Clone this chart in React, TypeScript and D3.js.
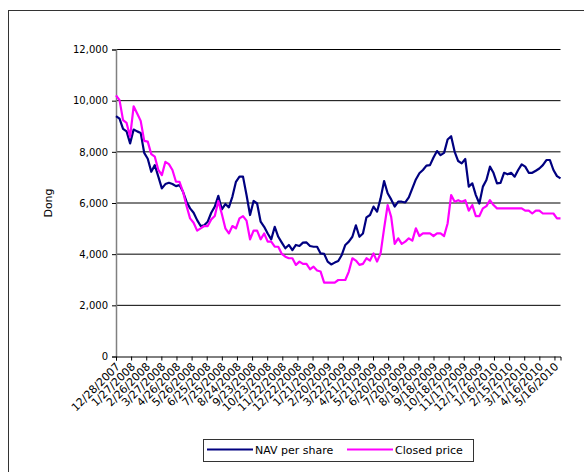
// App.tsx
import React, { useRef, useEffect } from 'react';
import * as d3 from 'd3';

// first weekly observation; one value per week after it
const startDate = '12/28/2007';

const tickLabels = [
    '12/28/2007', '1/27/2008', '2/26/2008', '3/27/2008', '4/26/2008', '5/26/2008',
    '6/25/2008', '7/25/2008', '8/24/2008', '9/23/2008', '10/23/2008', '11/22/2008',
    '12/22/2008', '1/21/2009', '2/20/2009', '3/22/2009', '4/21/2009', '5/21/2009',
    '6/20/2009', '7/20/2009', '8/19/2009', '9/18/2009', '10/18/2009', '11/17/2009',
    '12/17/2009', '1/16/2010', '2/15/2010', '3/17/2010', '4/16/2010', '5/16/2010',
];

const yTicks = [0, 2000, 4000, 6000, 8000, 10000, 12000];

const navPerShare = [
    9400, 9300, 8900, 8800, 8330, 8870, 8800, 8740, 7960, 7730,
    7220, 7480, 7030, 6570, 6740, 6790, 6740, 6660, 6700, 6440,
    6050, 5790, 5620, 5330, 5100, 5130, 5270, 5620, 5860, 6280,
    5750, 5960, 5830, 6250, 6830, 7030, 7030, 6310, 5530, 6080,
    5980, 5270, 5070, 4810, 4580, 5070, 4680, 4450, 4230, 4360,
    4160, 4360, 4320, 4450, 4460, 4320, 4290, 4290, 4030, 4010,
    3710, 3600, 3670, 3730, 3970, 4360, 4490, 4680, 5130, 4680,
    4810, 5440, 5530, 5860, 5660, 6180, 6860, 6380, 6140, 5860,
    6050, 6050, 6020, 6220, 6570, 6920, 7160, 7290, 7460, 7480,
    7780, 8030, 7870, 7960, 8480, 8610, 8000, 7640, 7550, 7720,
    6640, 6770, 6310, 5980, 6640, 6900, 7420, 7180, 6770, 6790,
    7180, 7120, 7180, 7030, 7290, 7510, 7420, 7180, 7180, 7260,
    7350, 7480, 7680, 7680, 7290, 7050, 6960,
];

const closedPrice = [
    10210, 10020, 9240, 9130, 8590, 9780, 9500, 9210, 8430, 8400,
    7910, 7810, 7290, 7090, 7610, 7520, 7290, 6830, 6830, 6440,
    5880, 5400, 5230, 4920, 5010, 5100, 5100, 5360, 5490, 6080,
    5570, 5010, 4810, 5100, 5010, 5400, 5490, 5310, 4580, 4920,
    4920, 4580, 4810, 4490, 4490, 4290, 4290, 4010, 3900, 3840,
    3840, 3580, 3710, 3620, 3620, 3410, 3510, 3360, 3320, 2890,
    2890, 2890, 2890, 2990, 2990, 2990, 3320, 3840, 3750, 3580,
    3620, 3840, 3750, 4030, 3710, 4030, 5010, 5920, 5460, 4400,
    4620, 4400, 4490, 4620, 4530, 5010, 4710, 4810, 4810, 4810,
    4710, 4810, 4810, 4710, 5200, 6310, 6050, 6110, 6050, 6110,
    5700, 5920, 5490, 5490, 5790, 5880, 6110, 5920, 5790, 5790,
    5790, 5790, 5790, 5790, 5790, 5790, 5700, 5700, 5590, 5700,
    5700, 5590, 5590, 5590, 5590, 5400, 5400,
];

const seriesNames = ['NAV per share', 'Closed price'];
const seriesColors = ['#000080', '#FF00FF'];

const App = () => {
    const chartRef = useRef<SVGSVGElement>(null);

    useEffect(() => {
        const svg = d3.select(chartRef.current);
        svg.selectAll('*').remove();

        const parse = d3.utcParse('%m/%d/%Y');
        const start = parse(startDate)!;
        const dates = navPerShare.map((_, i) => d3.utcDay.offset(start, i * 7));

        const left = 116, right = 560.5, top = 49.5, bottom = 356.5;

        // chart area frame (runs off the page on the right and bottom)
        svg.append('rect')
            .attr('x', 8.5).attr('y', 10.5)
            .attr('width', 600).attr('height', 500)
            .attr('fill', 'none').attr('stroke', '#333').attr('stroke-width', 1);

        const x = d3.scaleUtc()
            .domain([dates[0], dates[dates.length - 1]])
            .range([left, right]);

        const y = d3.scaleLinear().domain([0, 12000]).range([bottom, top]);

        // gridlines
        svg.append('g')
            .selectAll('line')
            .data(yTicks.filter((d) => d > 0))
            .enter()
            .append('line')
            .attr('x1', left).attr('x2', right)
            .attr('y1', (d) => y(d)).attr('y2', (d) => y(d))
            .attr('stroke', '#000').attr('stroke-width', 1);

        // y axis
        const yAxis = d3.axisLeft(y).tickValues(yTicks).tickSize(4).tickPadding(4).tickFormat(d3.format(','));
        const yg = svg.append('g').attr('transform', `translate(${left},0)`).call(yAxis);
        yg.select('.domain').attr('stroke', '#808080').attr('stroke-width', 1.5);
        yg.selectAll('.tick line').attr('stroke', '#000');
        yg.selectAll('.tick text')
            .attr('font-family', 'DejaVu Sans').attr('font-size', 10).attr('fill', '#000');

        // x axis
        const tickDates = tickLabels.map((t) => parse(t)!);
        const xAxis = d3.axisBottom(x).tickValues(tickDates).tickSize(4).tickFormat(() => '');
        const xg = svg.append('g').attr('transform', `translate(0,${bottom})`).call(xAxis);
        xg.select('.domain').attr('stroke', '#000').attr('stroke-width', 1);
        xg.selectAll('.tick line').attr('stroke', '#000');

        svg.append('g')
            .selectAll('text')
            .data(tickLabels)
            .enter()
            .append('text')
            .attr('transform', (d) => `translate(${x(parse(d)!) + 2},${bottom + 8}) rotate(-45)`)
            .attr('text-anchor', 'end')
            .attr('dy', '0.35em')
            .attr('font-family', 'DejaVu Sans')
            .attr('font-size', 11)
            .attr('fill', '#000')
            .text((d) => d);

        // y title
        svg.append('text')
            .attr('transform', `translate(52,203) rotate(-90)`)
            .attr('text-anchor', 'middle')
            .attr('font-family', 'DejaVu Sans')
            .attr('font-size', 11)
            .attr('fill', '#000')
            .text('Dong');

        // lines
        const line = d3.line<number>()
            .x((_, i) => x(dates[i]))
            .y((d) => y(d));

        [navPerShare, closedPrice].forEach((series, i) => {
            svg.append('path')
                .datum(series)
                .attr('d', line)
                .attr('fill', 'none')
                .attr('stroke', seriesColors[i])
                .attr('stroke-width', 2.2)
                .attr('stroke-linejoin', 'round');
        });

        // legend
        const legend = svg.append('g').attr('transform', 'translate(203,439)');
        legend.append('rect')
            .attr('x', 0.5).attr('y', 0.5)
            .attr('width', 270).attr('height', 22)
            .attr('fill', '#fff').attr('stroke', '#333').attr('stroke-width', 1);

        const itemX = [4, 144];
        seriesNames.forEach((name, i) => {
            legend.append('line')
                .attr('x1', itemX[i]).attr('x2', itemX[i] + 46)
                .attr('y1', 10.5).attr('y2', 10.5)
                .attr('stroke', seriesColors[i]).attr('stroke-width', 2.2);
            legend.append('text')
                .attr('x', itemX[i] + 48).attr('y', 14.5)
                .attr('font-family', 'DejaVu Sans')
                .attr('font-size', 11)
                .attr('fill', '#000')
                .text(name);
        });
    }, []);

    return (
        <svg
            ref={chartRef}
            width={584}
            height={472}
            style={{ position: 'absolute', left: 0, top: 0, background: '#fff' }}
        />
    );
};

export default App;
